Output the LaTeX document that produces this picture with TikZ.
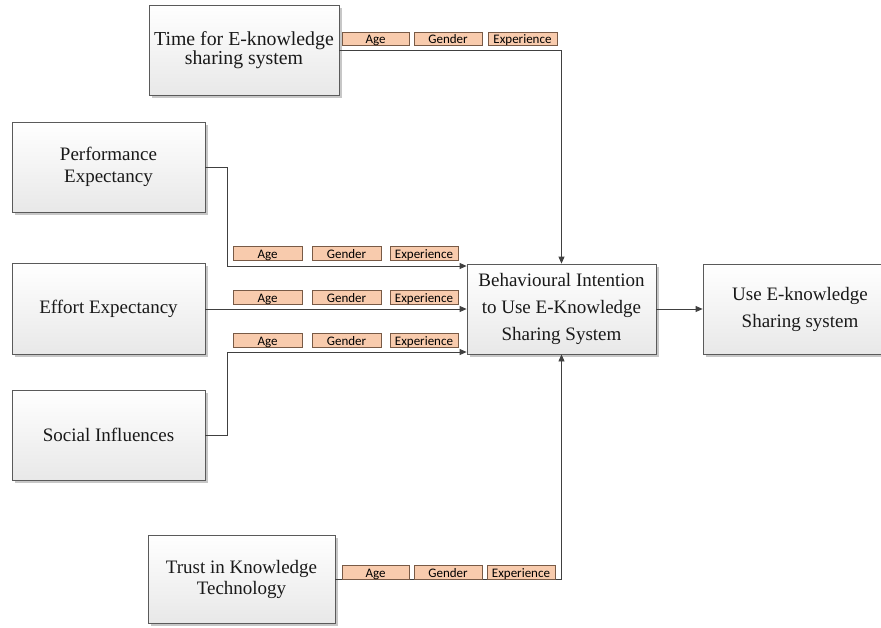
\documentclass[tikz,border=0pt]{standalone}
\usepackage{fontspec}
\setmainfont{Liberation Serif}
\newfontfamily\lblfont{Carlito}
\usetikzlibrary{arrows.meta,shadows}
\definecolor{boxline}{RGB}{90,90,90}
\definecolor{conn}{RGB}{64,64,64}
\definecolor{modfill}{RGB}{248,203,173}
\definecolor{modline}{RGB}{120,90,70}
\definecolor{boxtext}{RGB}{25,25,25}
\tikzset{
  bigbox/.style={rectangle, draw=boxline, line width=0.8pt, top color=white, bottom color=black!9,
    drop shadow={shadow xshift=2.5pt, shadow yshift=-2.5pt, fill=black!22, opacity=1},
    align=center, inner sep=2pt, text=boxtext},
  modbox/.style={rectangle, draw=modline, line width=0.6pt, fill=modfill, inner sep=0pt,
    minimum height=13.5pt, text height=11.5pt, text depth=1.8pt, font=\lblfont\fontsize{13}{13}\selectfont},
  arr/.style={draw=conn, line width=0.8pt, -{Triangle[length=7pt,width=6pt]}},
  ln/.style={draw=conn, line width=0.8pt}
}
\newcommand{\bfs}[1]{\fontsize{19}{#1}\selectfont}
\begin{document}
\begin{tikzpicture}[x=1pt,y=-1pt]
\useasboundingbox (0,0) rectangle (881,627);
% main boxes
\node[bigbox, minimum width=190pt, minimum height=90pt, font=\fontsize{19.8}{19.5}\selectfont] (time) at (244,50) {Time for E-knowledge\\sharing system};
\node[bigbox, minimum width=193pt, minimum height=90pt, font=\bfs{22}] (perf) at (108.5,167) {Performance\\Expectancy};
\node[bigbox, minimum width=193pt, minimum height=91pt, font=\bfs{22}] (eff) at (108.5,309) {Effort Expectancy};
\node[bigbox, minimum width=193pt, minimum height=90pt, font=\bfs{22}] (soc) at (108.5,435) {Social Influences};
\node[bigbox, minimum width=187pt, minimum height=88pt, font=\bfs{21}] (trust) at (241.5,579) {Trust in Knowledge\\Technology};
\node[bigbox, minimum width=189pt, minimum height=90pt, font=\bfs{27}] (bi) at (561.5,309) {Behavioural Intention\\to Use E-Knowledge\\Sharing System};
\node[bigbox, minimum width=194pt, minimum height=90pt, font=\bfs{27}] (use) at (800,309) {Use E-knowledge\\Sharing system};
% connectors
\coordinate (pj) at (227,266);
\coordinate (sj) at (227,352);
\draw[arr] (time.east) -| (bi.north);
\draw[arr] (perf.east) -| (pj) -- (pj -| bi.west);
\draw[arr] (eff.east) -- (bi.west);
\draw[arr] (soc.east) -| (sj) -- (sj -| bi.west);
\draw[arr] (trust.east) -| (bi.south);
\draw[arr] (bi.east) -- (use.west);
% moderators
\foreach \r/\yy in {p/253.5, e/297.5, s/340.5}{
  \node[modbox, minimum width=69pt] (age\r) at (267.5,\yy) {Age};
  \node[modbox, minimum width=69pt] (gen\r) at (346.5,\yy) {Gender};
  \node[modbox, minimum width=68pt] (exp\r) at (424,\yy) {Experience};
}
\node[modbox, minimum width=67pt] (aget) at (375.5,39) {Age};
\node[modbox, minimum width=68pt] (gent) at (448,39) {Gender};
\node[modbox, minimum width=69pt] (expt) at (522.5,39) {Experience};
\node[modbox, minimum width=67pt] (ageb) at (375.5,572.5) {Age};
\node[modbox, minimum width=68pt] (genb) at (448,572.5) {Gender};
\node[modbox, minimum width=68pt] (expb) at (521,572.5) {Experience};
\end{tikzpicture}
\end{document}
